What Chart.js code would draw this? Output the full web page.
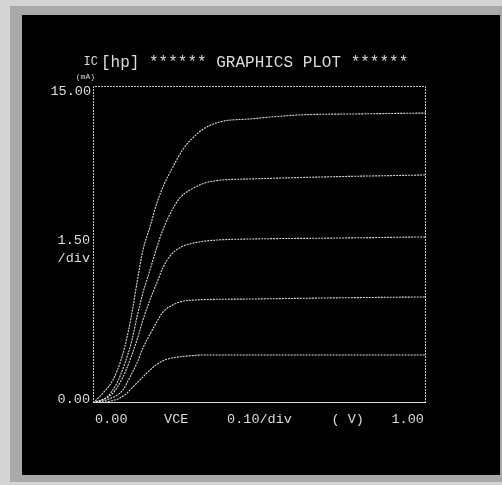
<!DOCTYPE html>
<html>
<head>
<meta charset="utf-8">
<script src="https://cdn.jsdelivr.net/npm/chart.js@4.4.1/dist/chart.umd.min.js"></script>
<style>
  html, body { margin: 0; padding: 0; background: #cfcfcf; }
  #wrap { width: 502px; height: 485px; }
</style>
</head>
<body>
<div id="wrap"><canvas id="myChart" width="502" height="485"></canvas></div>
<script>
// IC (mA) vs VCE (V), five curves
const vce1 = [0, 0.03, 0.06, 0.087, 0.105, 0.12, 0.135, 0.15, 0.171, 0.192, 0.21, 0.24, 0.27, 0.30, 0.33, 0.38, 0.47, 0.62, 0.80, 1.0];
const ic1  = [0, 0.47, 1.09, 2.18, 3.31, 4.54, 5.96, 7.24, 8.33, 9.47, 10.22, 11.17, 12.0, 12.55, 12.95, 13.3, 13.44, 13.63, 13.68, 13.72];

const vce2 = [0, 0.042, 0.072, 0.096, 0.117, 0.132, 0.15, 0.171, 0.192, 0.21, 0.24, 0.261, 0.291, 0.36, 0.47, 0.7, 1.0];
const ic2  = [0, 0.28, 0.95, 1.89, 2.98, 4.07, 5.21, 6.29, 7.38, 8.2, 9.2, 9.7, 10.08, 10.5, 10.6, 10.7, 10.79];

const vce3 = [0, 0.06, 0.09, 0.111, 0.132, 0.15, 0.171, 0.192, 0.21, 0.231, 0.261, 0.312, 0.372, 0.47, 0.7, 1.0];
const ic3  = [0, 0.47, 1.23, 2.03, 2.98, 3.93, 4.87, 5.7, 6.4, 6.95, 7.35, 7.6, 7.71, 7.76, 7.8, 7.86];

const vce4 = [0, 0.05, 0.09, 0.111, 0.132, 0.15, 0.171, 0.192, 0.21, 0.235, 0.26, 0.3, 0.47, 0.7, 1.0];
const ic4  = [0, 0.2, 0.62, 1.23, 1.89, 2.6, 3.25, 3.85, 4.3, 4.6, 4.78, 4.87, 4.92, 4.97, 5.02];

const vce5 = [0, 0.05, 0.081, 0.102, 0.12, 0.141, 0.162, 0.185, 0.21, 0.24, 0.28, 0.33, 1.0];
const ic5  = [0, 0.08, 0.24, 0.47, 0.76, 1.09, 1.42, 1.75, 2.0, 2.14, 2.22, 2.27, 2.27];

const xMin = 0, xMax = 1.0;
const yMin = 0, yMax = 15.0;

// axis texts
const titleText = '[hp] ****** GRAPHICS PLOT ******';
const yName = 'IC';
const yUnit = '(mA)';
const yTop = '15.00';
const yBottom = '0.00';
const yDiv = ['1.50', '/div'];
const xLabels = ['0.00', 'VCE', '0.10/div', '( V)', '1.00'];
const xLabelPos = [0.055, 0.25, 0.5, 0.765, 0.945];

const curves = [[vce1, ic1], [vce2, ic2], [vce3, ic3], [vce4, ic4], [vce5, ic5]];

function toPoints(xs, ys) {
  return xs.map((v, i) => ({ x: v, y: ys[i] }));
}

const screenPlugin = {
  id: 'screen',
  beforeDraw(chart) {
    const ctx = chart.ctx;
    ctx.save();
    ctx.fillStyle = '#d4d4d4';
    ctx.fillRect(0, 0, chart.width, chart.height);
    ctx.fillStyle = '#a9a9a9';
    ctx.fillRect(10, 6, 492, 476);
    ctx.fillStyle = '#000';
    ctx.fillRect(22, 15, 478, 460);
    ctx.restore();
  },
  afterDraw(chart) {
    const ctx = chart.ctx;
    const a = chart.chartArea;
    const xs = chart.scales.x;
    const ys = chart.scales.y;
    ctx.save();

    // frame
    ctx.strokeStyle = '#c8c8c8';
    ctx.lineWidth = 1;
    ctx.setLineDash([2, 1]);
    ctx.beginPath();
    ctx.moveTo(a.left + 0.5, a.bottom);
    ctx.lineTo(a.left + 0.5, a.top + 0.5);
    ctx.lineTo(a.right - 0.5, a.top + 0.5);
    ctx.lineTo(a.right - 0.5, a.bottom);
    ctx.stroke();
    ctx.setLineDash([]);
    ctx.strokeStyle = '#dcdcdc';
    ctx.beginPath();
    ctx.moveTo(a.left, a.bottom - 0.5);
    ctx.lineTo(a.right, a.bottom - 0.5);
    ctx.stroke();

    ctx.fillStyle = '#dcdcdc';
    ctx.textBaseline = 'middle';

    // title
    ctx.font = '16px "Liberation Mono"';
    ctx.textAlign = 'left';
    ctx.fillText(titleText, 101, 63);
    ctx.font = '12px "Liberation Mono"';
    ctx.textAlign = 'right';
    ctx.fillText(yName, 98, 62);
    ctx.font = '8px "Liberation Mono"';
    ctx.fillText(yUnit, 95, 77);

    // y labels
    ctx.font = '13.5px "Liberation Mono"';
    ctx.textAlign = 'right';
    ctx.fillText(yTop, a.left - 2, ys.getPixelForValue(yMax) + 5);
    ctx.fillText(yBottom, a.left - 3, ys.getPixelForValue(yMin) - 4);
    const mid = ys.getPixelForValue((yMin + yMax) / 2);
    ctx.fillText(yDiv[0], a.left - 3, mid - 4);
    ctx.fillText(yDiv[1], a.left - 3, mid + 14);

    // x labels
    ctx.textAlign = 'center';
    xLabels.forEach((t, i) => {
      ctx.fillText(t, xs.getPixelForValue(xLabelPos[i]), a.bottom + 16);
    });
    ctx.restore();
  }
};

const ctx = document.getElementById('myChart');
const myChart = new Chart(ctx, {
  type: 'scatter',
  data: {
    datasets: curves.map((c, i) => ({
      label: 'curve ' + (i + 1),
      data: toPoints(c[0], c[1]),
      showLine: true,
      borderColor: 'rgba(230, 230, 230, 0.95)',
      borderWidth: 1.1,
      borderDash: [2, 1],
      pointRadius: 0,
      cubicInterpolationMode: 'monotone',
      fill: false
    }))
  },
  options: {
    responsive: false,
    animation: false,
    layout: { padding: { left: 93, right: 76, top: 86, bottom: 82 } },
    plugins: { legend: { display: false }, tooltip: { enabled: false } },
    scales: {
      x: { type: 'linear', min: xMin, max: xMax, display: false },
      y: { type: 'linear', min: yMin, max: yMax, display: false }
    }
  },
  plugins: [screenPlugin]
});
</script>
</body>
</html>
